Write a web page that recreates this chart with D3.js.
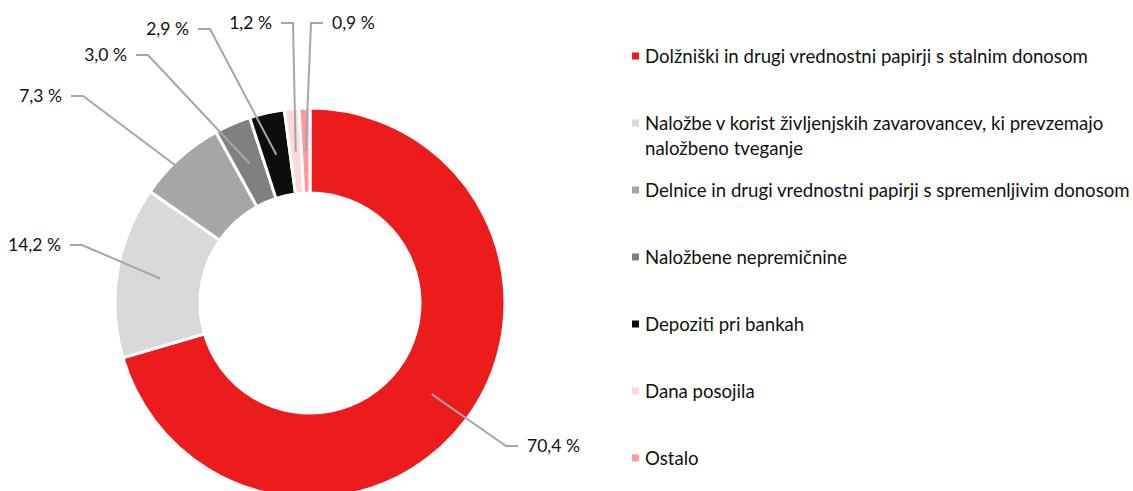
<!DOCTYPE html>
<html>
<head>
<meta charset="utf-8">
<script src="https://cdn.jsdelivr.net/npm/d3@7"></script>
<style>
  html, body { margin: 0; padding: 0; background: #fff; }
  svg { display: block; font-family: Lato, "Noto Sans", sans-serif; }
</style>
</head>
<body>
<svg id="chart" width="1133" height="491"></svg>
<script>
// ---- data ----
const categories = [
  "Dolžniški in drugi vrednostni papirji s stalnim donosom",
  "Naložbe v korist življenjskih zavarovancev, ki prevzemajo naložbeno tveganje",
  "Delnice in drugi vrednostni papirji s spremenljivim donosom",
  "Naložbene nepremičnine",
  "Depoziti pri bankah",
  "Dana posojila",
  "Ostalo"
];
const values = [70.4, 14.2, 7.3, 3.0, 2.9, 1.2, 0.9];
const valueLabels = ["70,4 %", "14,2 %", "7,3 %", "3,0 %", "2,9 %", "1,2 %", "0,9 %"];
const legendLines = [
  ["Dolžniški in drugi vrednostni papirji s stalnim donosom"],
  ["Naložbe v korist življenjskih zavarovancev, ki prevzemajo", "naložbeno tveganje"],
  ["Delnice in drugi vrednostni papirji s spremenljivim donosom"],
  ["Naložbene nepremičnine"],
  ["Depoziti pri bankah"],
  ["Dana posojila"],
  ["Ostalo"]
];
const colors = ["#ED1C1C", "#D9D9D9", "#A6A6A6", "#808080", "#0D0D0D", "#FFD9D9", "#FF9999"];

// ---- layout (positions, not data) ----
const cx = 310, cy = 303, rOuter = 195, rInner = 110, rLeader = 152;
const labelLayout = [
  {ex: 506, ey: 446, side: "right"},
  {ex: 82,  ey: 245, side: "left"},
  {ex: 83,  ey: 96,  side: "left"},
  {ex: 148, ey: 55,  side: "left"},
  {ex: 210, ey: 29,  side: "left"},
  {ex: 293, ey: 23,  side: "left"},
  {ex: 311, ey: 23,  side: "right"}
];
const legendX = 632, legendY0 = 56, legendStep = 67, lineH = 25;
const labelFont = 17.5, legendFont = 18.6;

const svg = d3.select("#chart");
const data = categories.map((c, i) => ({cat: c, value: values[i], color: colors[i], label: valueLabels[i], i}));

const pie = d3.pie().value(d => d.value).sort(null);
const arcs = pie(data);
const arc = d3.arc().innerRadius(rInner).outerRadius(rOuter);
const leaderArc = d3.arc().innerRadius(rLeader).outerRadius(rLeader);

const g = svg.append("g").attr("transform", `translate(${cx},${cy})`);
g.selectAll("path.slice").data(arcs).join("path")
  .attr("class", "slice")
  .attr("d", arc)
  .attr("fill", d => d.data.color)
  .attr("stroke", "#fff")
  .attr("stroke-width", 3)
  .attr("stroke-linejoin", "miter");

// leader lines
const leaders = svg.append("g");
arcs.forEach((a, i) => {
  const [px, py] = leaderArc.centroid(a);
  const L = labelLayout[i];
  const hx = L.side === "right" ? L.ex + 12 : L.ex - 12;
  const pts = [[cx + px, cy + py], [L.ex, L.ey], [hx, L.ey]];
  leaders.append("path")
    .attr("d", d3.line()(pts))
    .attr("fill", "none")
    .attr("stroke", "#A6A6A6")
    .attr("stroke-width", 2);
  leaders.append("text")
    .attr("x", L.side === "right" ? hx + 9 : hx - 9)
    .attr("y", L.ey)
    .attr("dy", "0.35em")
    .attr("text-anchor", L.side === "right" ? "start" : "end")
    .attr("font-size", labelFont)
    .attr("fill", "#111")
    .text(a.data.label);
});

// legend
const leg = svg.append("g");
data.forEach((d, i) => {
  const y = legendY0 + i * legendStep;
  leg.append("rect")
    .attr("x", legendX).attr("y", y - 3.5)
    .attr("width", 7).attr("height", 7)
    .attr("fill", d.color);
  legendLines[i].forEach((t, j) => {
    leg.append("text")
      .attr("x", legendX + 13)
      .attr("y", y + j * lineH)
      .attr("dy", "0.35em")
      .attr("font-size", legendFont)
      .attr("fill", "#111")
      .text(t);
  });
});
</script>
</body>
</html>
